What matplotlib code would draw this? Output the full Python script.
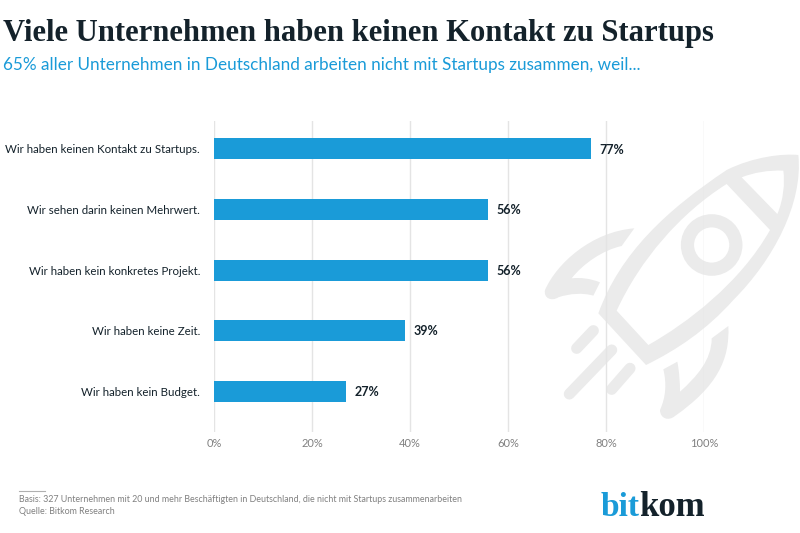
#!/usr/bin/env python3
import matplotlib
matplotlib.use('Agg')
import matplotlib.pyplot as plt
from matplotlib.patches import PathPatch, Circle
from matplotlib.path import Path

answers = [
    'Wir haben keinen Kontakt zu Startups.',
    'Wir sehen darin keinen Mehrwert.',
    'Wir haben kein konkretes Projekt.',
    'Wir haben keine Zeit.',
    'Wir haben kein Budget.',
]
shares = [77, 56, 56, 39, 27]
x_ticks = [0, 20, 40, 60, 80, 100]

TITLE = 'Viele Unternehmen haben keinen Kontakt zu Startups'
SUBTITLE = '65% aller Unternehmen in Deutschland arbeiten nicht mit Startups zusammen, weil...'
BASIS = 'Basis: 327 Unternehmen mit 20 und mehr Beschäftigten in Deutschland, die nicht mit Startups zusammenarbeiten'
SOURCE = 'Quelle: Bitkom Research'

BLUE = '#1a9bd8'
DARK = '#14222b'
GREY = '#808080'
ROCKET = '#ebebeb'
W, H = 800, 533


def px(x, y):
    # pixel coords of the 280x300 rocket crop, drawn at 3x
    return 520 + x / 3, 120 + y / 3


def shape(*parts):
    # each part: list of (code, points); builds one compound path
    verts, codes = [], []
    for start, segs in parts:
        verts.append(px(*start))
        codes.append(Path.MOVETO)
        for seg in segs:
            code = {1: Path.LINETO, 2: Path.CURVE3, 3: Path.CURVE4}[len(seg)]
            for p in seg:
                verts.append(px(*p))
                codes.append(code)
        verts.append(px(*start))
        codes.append(Path.CLOSEPOLY)
    return Path(verts, codes)


def draw_rocket(bg):
    body = shape(
        ((235, 580), [((300, 400), (440, 270), (620, 150)),
                      ((700, 110), (790, 100), (835, 105)),
                      ((850, 250), (760, 420), (640, 540)),
                      ((560, 630), (470, 690), (378, 735))]),
        # cabin window
        ((290, 572), [((385, 675),), ((500, 610), (660, 490), (750, 330)),
                      ((620, 192),), ((480, 280), (360, 420), (290, 572))]),
        # nose cone window
        ((665, 172), [((772, 282),), ((790, 240), (795, 190), (790, 152)),
                      ((745, 150), (700, 158), (665, 172))]),
    )
    upper_fin = shape(
        ((343, 325), [((215, 335), (110, 430), (75, 510)),
                      ((70, 535), (95, 545), (115, 532)),
                      ((150, 520), (190, 518), (220, 527)),
                      ((240, 487),),
                      ((210, 475), (180, 472), (155, 475)),
                      ((190, 430), (250, 390), (305, 378))]),
    )
    lower_fin = shape(
        ((625, 618), [((575, 655),), ((575, 720), (530, 770), (480, 815)),
                      ((480, 790), (478, 755), (472, 725)),
                      ((430, 748),), ((440, 790), (438, 830), (420, 870)),
                      ((420, 895), (445, 905), (465, 888)),
                      ((590, 800), (630, 720), (625, 618))]),
    )
    for p in (body, upper_fin, lower_fin):
        bg.add_patch(PathPatch(p, facecolor=ROCKET, edgecolor='none'))
    bg.add_patch(Circle(px(575, 375), 24.2, fill=False, edgecolor=ROCKET, linewidth=9.5))
    for a, b in [((170, 685), (220, 632)), ((148, 822), (275, 690)), ((275, 808), (330, 745))]:
        xs, ys = zip(px(*a), px(*b))
        bg.plot(xs, ys, color=ROCKET, linewidth=8, solid_capstyle='round')


fig = plt.figure(figsize=(W / 100, H / 100), dpi=100)
fig.patch.set_facecolor('white')

# full-figure layer in pixel coordinates for the watermark and footer rule
bg = fig.add_axes([0, 0, 1, 1], zorder=0)
bg.set_xlim(0, W)
bg.set_ylim(H, 0)
bg.axis('off')
draw_rocket(bg)
bg.plot([19, 45], [491, 491], color='#b0b0b0', linewidth=0.8)

# plot area spans x 214-704, y 121-432 in pixels
ax = fig.add_axes([214 / W, 1 - 432 / H, 490 / W, 311 / H], zorder=1)
ax.patch.set_alpha(0)
pos = list(range(len(answers)))
ax.barh(pos, shares, height=0.35, color=BLUE, zorder=3)
ax.set_xlim(0, 100)
ax.set_ylim(4.67, -0.46)
ax.set_xticks(x_ticks)
ax.set_xticklabels([f'{t}%' for t in x_ticks], fontsize=8, color=GREY, family='Lato')
ax.set_yticks(pos)
ax.set_yticklabels(answers, fontsize=8.3, color=DARK, family='Lato')
ax.tick_params(axis='both', length=0)
ax.tick_params(axis='x', pad=4)
ax.tick_params(axis='y', pad=10)
ax.grid(axis='x', color='#e4e4e4', linewidth=1.0, zorder=1)
ax.set_axisbelow(True)
for s in ax.spines.values():
    s.set_visible(False)
for i, v in enumerate(shares):
    ax.annotate(f'{v}%', (v, i), xytext=(5.8, -0.5), textcoords='offset points',
                va='center', ha='left', fontsize=9, fontweight='bold', color=DARK, family='Lato')

fig.text(3 / W, 1 - 34 / H, TITLE, fontsize=22.1, fontweight='bold', color=DARK,
         family='Liberation Serif', va='center', ha='left')
fig.text(3 / W, 1 - 65 / H, SUBTITLE, fontsize=12.3, color=BLUE, family='Lato', va='center', ha='left')
fig.text(19 / W, 1 - 499 / H, BASIS, fontsize=6.4, color=GREY, family='Lato', va='center', ha='left')
fig.text(19 / W, 1 - 511 / H, SOURCE, fontsize=6.4, color=GREY, family='Lato', va='center', ha='left')

# logo wordmark
fig.text(601 / W, 1 - 516 / H, 'bit', fontsize=24, fontweight='bold', color=BLUE,
         family='Liberation Serif', va='baseline', ha='left')
fig.text(705 / W, 1 - 516 / H, 'kom', fontsize=25, fontweight='bold', color=DARK,
         family='Liberation Serif', va='baseline', ha='right')

fig.savefig('out.png', dpi=100, facecolor='white')
